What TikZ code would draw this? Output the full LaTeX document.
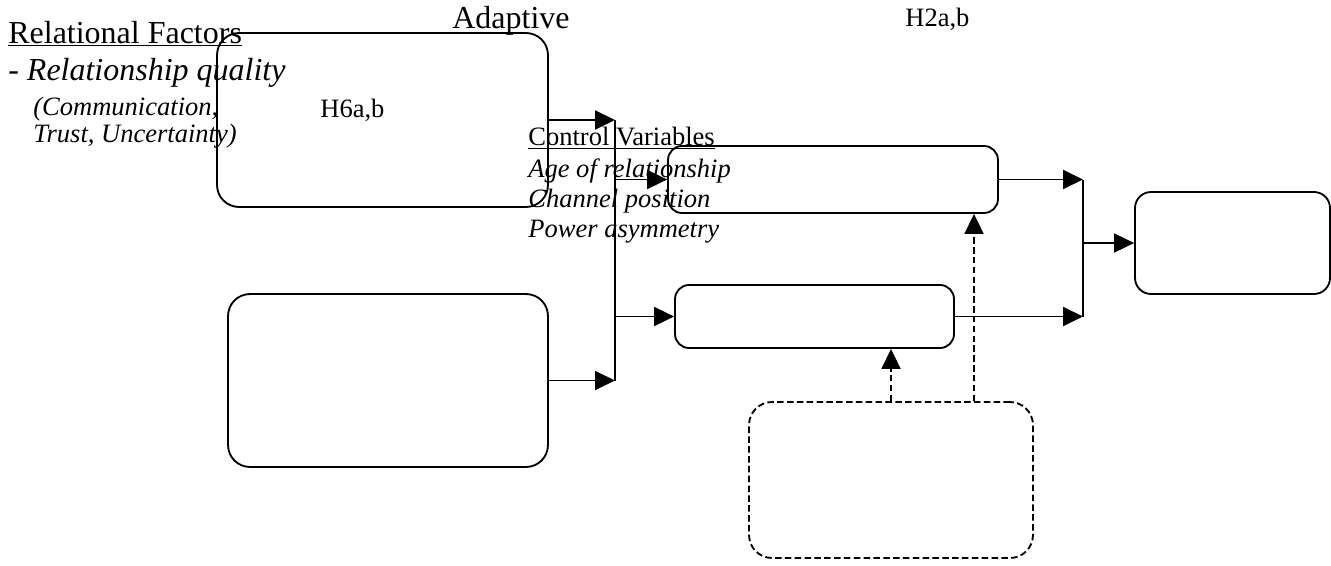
\documentclass[tikz,border=0pt]{standalone}
\usepackage{fontspec}
\setmainfont{Liberation Serif}
\usetikzlibrary{arrows.meta,calc}

\newcommand{\bigtxt}{\fontsize{18.2}{21}\selectfont}
\newcommand{\smalltxt}{\fontsize{15.1}{17}\selectfont}

\tikzset{
  box/.style={draw, line width=1.05pt, inner sep=0pt},
  arr/.style={line width=1.05pt, -{Triangle[length=0.4cm,width=0.38cm]}},
  darr/.style={arr, dash pattern=on 3.7pt off 1.9pt},
  lbl/.style={anchor=base west, inner sep=0pt}
}

\begin{document}
\begin{tikzpicture}[x=0.02cm, y=-0.02cm]
    \useasboundingbox (0,0) rectangle (1331,565);

    % Boxes
    \node[box, rounded corners=0.44cm, minimum width=6.62cm, minimum height=3.48cm] (adapt) at (382.5,120) {};
    \node[box, rounded corners=0.44cm, minimum width=6.4cm, minimum height=3.46cm] (lower) at (388,380.5) {};
    \node[box, rounded corners=0.28cm, minimum width=6.6cm, minimum height=1.34cm] (upmid) at (833,179.5) {};
    \node[box, rounded corners=0.28cm, minimum width=5.58cm, minimum height=1.26cm] (lomid) at (814.5,316.5) {};
    \node[box, rounded corners=0.32cm, minimum width=3.9cm, minimum height=2.04cm] (outcome) at (1232.5,243) {};
    \node[box, dash pattern=on 3.7pt off 1.9pt, rounded corners=0.46cm, minimum width=5.68cm, minimum height=3.12cm] (moder) at (891,480) {};

    % Texts
    \node[lbl] (adtxt) at (452,28) {\bigtxt Adaptive};
    \node[lbl] (relf) at (8,43) {\bigtxt \underline{Relational Factors}};
    \node[lbl] (relq) at (8,80) {\bigtxt - \textit{Relationship quality}};
    \node[lbl] (comm) at (33,115) {\smalltxt\itshape (Communication,};
    \node[lbl] (trust) at (33,142) {\smalltxt\itshape Trust, Uncertainty)};
    \node[lbl] (hsix) at (320,117) {\smalltxt H6a,b};
    \node[lbl] (htwo) at (905,26) {\smalltxt H2a,b};
    \node[lbl] (ctrl) at (528,145) {\smalltxt \underline{Control Variables}};
    \node[lbl] (age) at (528,177) {\smalltxt\itshape Age of relationship};
    \node[lbl] (chan) at (528,207) {\smalltxt\itshape Channel position};
    \node[lbl] (pow) at (528,237) {\smalltxt\itshape Power asymmetry};

    % Junction lines
    \coordinate (bus) at (615,0);
    \coordinate (join) at (1083,0);
    \coordinate (dl) at (891,0);
    \coordinate (dr) at (974,0);

    \draw[arr] (adapt.east) -- (adapt.east -| bus);
    \draw[arr] (lower.east) -- (lower.east -| bus);
    \draw[line width=1.05pt] (adapt.east -| bus) -- (lower.east -| bus);
    \draw[arr] (upmid.west -| bus) -- (upmid.west);
    \draw[arr] (lomid.west -| bus) -- (lomid.west);

    \draw[arr] (upmid.east) -- (upmid.east -| join);
    \draw[arr] (lomid.east) -- (lomid.east -| join);
    \draw[line width=1.05pt] (upmid.east -| join) -- (lomid.east -| join);
    \draw[arr] (outcome.west -| join) -- (outcome.west);

    % Moderator (dashed)
    \draw[darr] (moder.north -| dl) -- (lomid.south -| dl);
    \draw[darr] (moder.north -| dr) -- (upmid.south -| dr);
\end{tikzpicture}
\end{document}
